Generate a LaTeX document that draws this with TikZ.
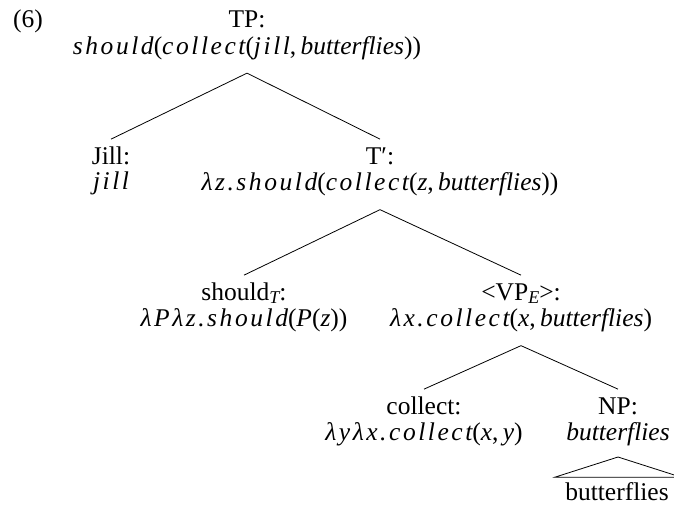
\documentclass[tikz,border=0pt]{standalone}
\usepackage{fontspec}
\setmainfont{Liberation Serif}
\newcommand\mv[1]{{\itshape\addfontfeature{LetterSpace=10}#1}}
\newcommand\mw[1]{{\itshape #1}}
\newcommand\cm{,\thinspace}
\newcommand\sbs[1]{\raisebox{-0.14em}{\fontsize{18}{18}\selectfont\itshape #1}}
\newcommand\stt{\strut}
\tikzset{
  tn/.style={anchor=north, align=center, inner sep=0pt, font=\fontsize{25.5}{25.5}\selectfont},
  edge/.style={line width=0.8pt, line join=miter}
}
\begin{document}
\begin{tikzpicture}[x=1pt,y=-1pt]
\useasboundingbox (0,0) rectangle (674,506);
\clip (0,0) rectangle (674,506);
\node[tn, anchor=base west] (ex) at (13,27.5) {(6)};
\node[tn] (tp) at (247,9.65) {\stt TP:\\\stt\mv{should}(\mv{collect}(\mv{jill}\cm\mw{butterflies}))};
\node[tn] (jill) at (111,146.15) {\stt Jill:\\\stt\mv{jill}};
\node[tn] (tbar) at (380,146.15) {\stt T′:\\\stt\mv{λz.should}(\mv{collect}(\mv{z}\cm\mw{butterflies}))};
\node[tn] (should) at (244,282.15) {\stt should\sbs{T}:\\\stt\mv{λPλz.should}(\mv{P}(\mv{z}))};
\node[tn] (vpe) at (521,282.15) {\stt <VP\sbs{E}>:\\\stt\mv{λx.collect}(\mv{x}\cm\mw{butterflies})};
\node[tn] (collect) at (424,396.15) {\stt collect:\\\stt\mv{λyλx.collect}(\mv{x}\cm\mv{y})};
\node[tn] (np) at (618,396.15) {\stt NP:\\\stt\mw{butterflies}};
\node[tn] (leaf) at (617,482.15) {\stt butterflies};
\draw[edge] ([yshift=-11pt]tp.south) -- ([yshift=7pt]jill.north);
\draw[edge] ([yshift=-11pt]tp.south) -- ([yshift=7pt]tbar.north);
\draw[edge] ([yshift=-11pt]tbar.south) -- ([yshift=7pt]should.north);
\draw[edge] ([yshift=-11pt]tbar.south) -- ([yshift=7pt]vpe.north);
\draw[edge] ([yshift=-11pt]vpe.south) -- ([yshift=7pt]collect.north);
\draw[edge] ([yshift=-11pt]vpe.south) -- ([yshift=7pt]np.north);
\draw[edge] ([yshift=-8.35pt]np.south) -- ([xshift=-62pt,yshift=5pt]leaf.north) -- ([xshift=64pt,yshift=5pt]leaf.north) -- cycle;
\end{tikzpicture}
\end{document}
